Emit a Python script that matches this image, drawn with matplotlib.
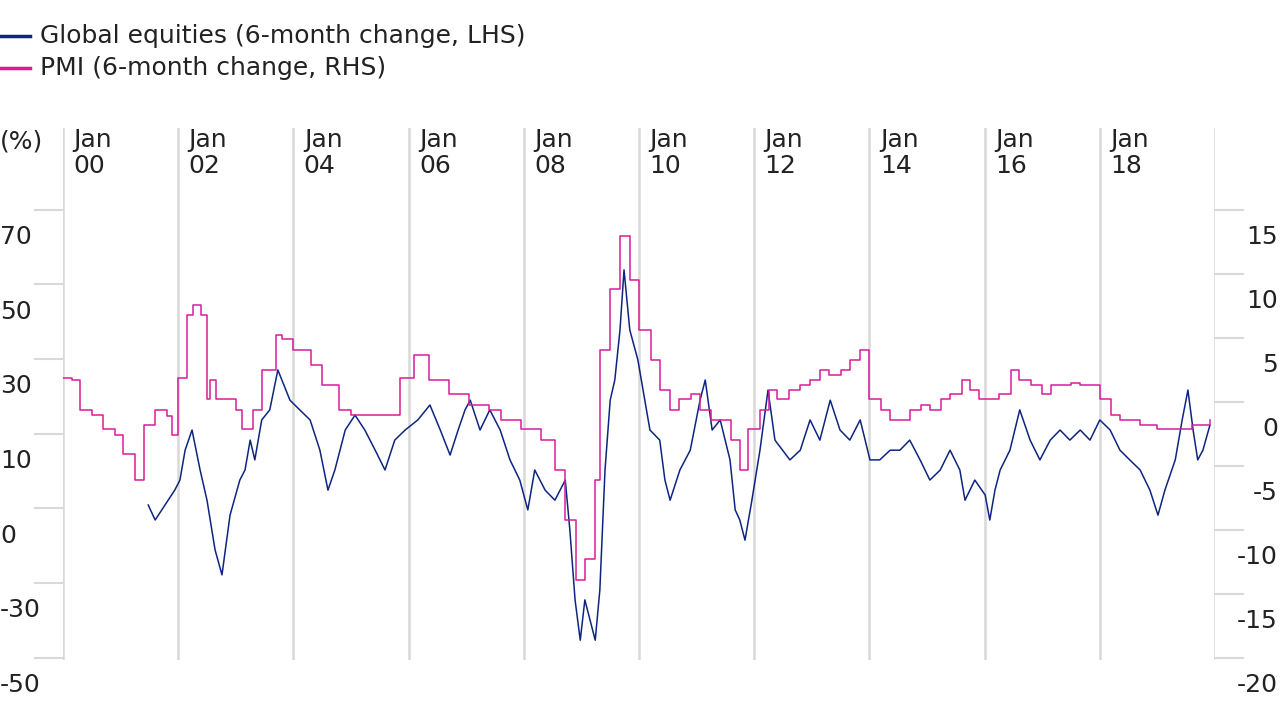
import matplotlib
matplotlib.use("Agg")
import matplotlib.pyplot as plt
import matplotlib.transforms as mtransforms

# equities: decimal years since 2000, 6-month % change (LHS)
EQ_T = [1.48, 1.60, 1.77, 1.94, 2.03, 2.12, 2.24, 2.38, 2.50, 2.64, 2.76, 2.90, 3.07, 3.16,
        3.25, 3.33, 3.45, 3.59, 3.73, 3.80, 3.94, 4.11, 4.29, 4.46, 4.60, 4.72, 4.90, 5.07,
        5.24, 5.42, 5.59, 5.76, 5.94, 6.16, 6.37, 6.55, 6.72, 6.86, 6.98, 7.07, 7.24, 7.41,
        7.59, 7.76, 7.93, 8.07, 8.19, 8.37, 8.54, 8.72, 8.80, 8.89, 8.98, 9.06, 9.15, 9.24,
        9.32, 9.41, 9.50, 9.58, 9.67, 9.74, 9.84, 9.98, 10.10, 10.19, 10.36, 10.45, 10.54,
        10.71, 10.89, 11.06, 11.15, 11.27, 11.41, 11.58, 11.67, 11.75, 11.84, 11.96, 12.10,
        12.24, 12.36, 12.62, 12.80, 12.97, 13.14, 13.32, 13.49, 13.66, 13.84, 14.01, 14.18,
        14.36, 14.53, 14.70, 14.88, 15.05, 15.23, 15.40, 15.57, 15.66, 15.83, 16.01, 16.09,
        16.18, 16.27, 16.44, 16.61, 16.79, 16.96, 17.14, 17.31, 17.48, 17.66, 17.83, 18.00,
        18.18, 18.35, 18.52, 18.70, 18.87, 19.01, 19.13, 19.31, 19.43, 19.53, 19.62, 19.70,
        19.79, 19.91]
EQ_V = [-1.8, -5.8, -1.8, 2.2, 4.9, 12.9, 18.3, 7.6, -0.5, -13.8, -20.5, -4.5, 4.9, 7.6,
        15.6, 10.3, 21.0, 23.7, 34.4, 31.7, 26.3, 23.7, 21.0, 12.9, 2.2, 7.6, 18.3, 22.3,
        18.3, 12.9, 7.6, 15.6, 18.3, 21.0, 25.0, 18.3, 11.6, 18.3, 23.7, 26.3, 18.3, 23.7,
        18.3, 10.3, 4.9, -3.1, 7.6, 2.2, -0.5, 4.9, -8.5, -27.2, -38.0, -27.2, -32.6, -38.0,
        -24.6, 7.6, 26.3, 31.7, 45.1, 61.2, 45.1, 37.1, 26.3, 18.3, 15.6, 4.9, -0.5,
        7.6, 12.9, 26.3, 31.7, 18.3, 21.0, 10.3, -3.1, -5.8, -11.2, -0.5, 12.9,
        29.0, 15.6, 10.3, 12.9, 21.0, 15.6, 26.3, 18.3, 15.6, 21.0, 10.3, 10.3,
        12.9, 12.9, 15.6, 10.3, 4.9, 7.6, 12.9, 7.6, -0.5, 4.9, 0.9, -5.8,
        2.2, 7.6, 12.9, 23.7, 15.6, 10.3, 15.6, 18.3, 15.6, 18.3, 15.6, 21.0,
        18.3, 12.9, 10.3, 7.6, 2.2, -4.5, 2.2, 10.3, 21.0, 29.0, 18.3, 10.3,
        12.9, 19.5]

# PMI: decimal years since 2000, 6-month change (RHS), step series
PMI_T = [0.0, 0.15, 0.3, 0.5, 0.7, 0.9, 1.05, 1.25, 1.4, 1.6, 1.8, 1.9, 2.0, 2.15, 2.25,
         2.4, 2.5, 2.55, 2.65, 3.0, 3.1, 3.3, 3.45, 3.7, 3.8, 4.0, 4.3, 4.5, 4.8, 5.0, 5.5,
         5.85, 6.1, 6.35, 6.7, 7.05, 7.4, 7.6, 7.95, 8.3, 8.55, 8.72, 8.9, 9.06, 9.24, 9.32,
         9.5, 9.67, 9.84, 10.0, 10.2, 10.36, 10.54, 10.7, 10.9, 11.06, 11.25, 11.4, 11.6,
         11.75, 11.9, 12.1, 12.25, 12.4, 12.6, 12.8, 12.97, 13.14, 13.3, 13.5, 13.66, 13.84,
         14.0, 14.2, 14.35, 14.55, 14.7, 14.9, 15.05, 15.25, 15.4, 15.6, 15.75, 15.9, 16.1,
         16.25, 16.45, 16.6, 16.8, 17.0, 17.15, 17.3, 17.5, 17.65, 17.85, 18.0, 18.2, 18.35,
         18.5, 18.7, 18.85, 19.0, 19.2, 19.4, 19.6, 19.8, 19.91]
PMI_V = [4.0, 3.8, 1.5, 1.1, 0.0, -0.5, -2.0, -4.0, 0.3, 1.5, 1.0, -0.5, 4.0, 8.9, 9.7,
         8.9, 2.3, 3.8, 2.3, 1.5, 0.0, 1.5, 4.6, 7.3, 7.0, 6.2, 5.0, 3.4, 1.5, 1.1, 1.1,
         4.0, 5.8, 3.8, 2.7, 1.9, 1.5, 0.7, 0.0, -0.9, -3.2, -7.1, -11.8, -10.2, -4.0, 6.2,
         10.9, 15.1, 11.6, 7.7, 5.4, 3.0, 1.5, 2.3, 2.7, 1.5, 0.7, 0.7, -0.9,
         -3.2, 0.0, 1.5, 3.0, 2.3, 3.0, 3.4, 3.8, 4.6, 4.2, 4.6, 5.4, 6.2,
         2.3, 1.5, 0.7, 0.7, 1.5, 1.9, 1.5, 2.3, 2.7, 3.8, 3.0, 2.3, 2.3,
         2.7, 4.6, 3.8, 3.4, 2.7, 3.4, 3.4, 3.6, 3.4, 3.4, 2.3, 1.1, 0.7,
         0.7, 0.3, 0.3, 0.0, 0.0, 0.0, 0.3, 0.3, 0.7]

LEFT_LABELS = [70, 50, 30, 10, 0, -30, -50]
LEFT_POS = [70, 50, 30, 10, -10, -30, -50]
RIGHT_LABELS = [15, 10, 5, 0, -5, -10, -15, -20]
X_YEARS = list(range(0, 19, 2))

NAVY = "#0d2580"
PINK = "#d81b9c"
GRID = "#d9d9d9"
FS = 18

fig = plt.figure(figsize=(12.8, 7.2), dpi=100)
ax = fig.add_axes([63 / 1280, 60 / 720, (1215 - 63) / 1280, (660 - 128) / 720])
ax2 = ax.twinx()
ax.set_xlim(0, 20)
ax.set_ylim(-43.3, 99.2)
ax2.set_ylim(-18.05, 23.5)
for a in (ax, ax2):
    for s in a.spines.values():
        s.set_visible(False)
    a.set_xticks([])
    a.set_yticks([])

for yr in list(range(0, 21, 2)):
    ax.axvline(yr, color=GRID, lw=1.8, zorder=0)
for yr in X_YEARS:
    ax.text(yr + 0.18, 1.0, f"Jan\n{yr:02d}", transform=ax.get_xaxis_transform(),
            ha="left", va="top", fontsize=FS, linespacing=1.1, color="#222")

ax2.step(PMI_T, PMI_V, where="post", color=PINK, lw=1.1, zorder=2)
ax.plot(EQ_T, EQ_V, color=NAVY, lw=1.1, zorder=3)

# left labels and offset tick marks
tl = mtransforms.blended_transform_factory(fig.transFigure, ax.transData)
for lab, v in zip(LEFT_LABELS, LEFT_POS):
    ax.text(0.0, v, str(lab), transform=tl, ha="left", va="center", fontsize=FS,
            color="#222", clip_on=False)
    ax.plot([35 / 1280, 63 / 1280], [v + 7.3, v + 7.3], transform=tl, color=GRID,
            lw=1.5, clip_on=False)
tr = mtransforms.blended_transform_factory(fig.transFigure, ax2.transData)
for v in RIGHT_LABELS:
    ax2.text(1278 / 1280, v, str(v), transform=tr, ha="right", va="center", fontsize=FS,
             color="#222", clip_on=False)
    ax2.plot([1215 / 1280, 1243 / 1280], [v + 2.1, v + 2.1], transform=tr, color=GRID,
             lw=1.5, clip_on=False)

fig.text(0.0, 1 - 142 / 720, "(%)", ha="left", va="center", fontsize=FS, color="#222")

# legend
for yy, lab, c in [(36, "Global equities (6-month change, LHS)", NAVY),
                   (68, "PMI (6-month change, RHS)", PINK)]:
    fig.lines.append(plt.Line2D([0, 30 / 1280], [1 - yy / 720] * 2, color=c, lw=2.5,
                                transform=fig.transFigure))
    fig.text(40 / 1280, 1 - yy / 720, lab, ha="left", va="center", fontsize=FS, color="#222")

fig.savefig("out.png", dpi=100)
